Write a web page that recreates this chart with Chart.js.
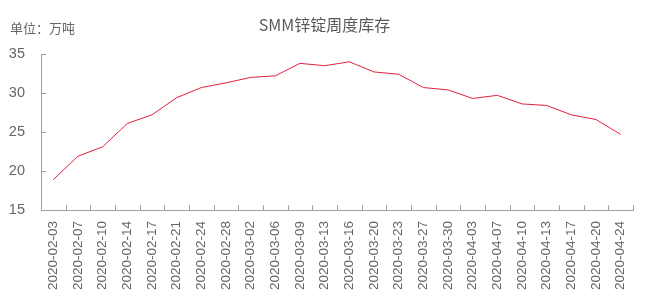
<!DOCTYPE html>
<html>
<head>
<meta charset="utf-8">
<script src="https://cdn.jsdelivr.net/npm/chart.js@4/dist/chart.umd.min.js"></script>
<style>
  html, body { margin: 0; padding: 0; background: #fff; }
  #wrap { width: 649px; height: 302px; }
</style>
</head>
<body>
<div id="wrap"><canvas id="c" width="649" height="302"></canvas></div>
<script>
const categories = ["2020-02-03","2020-02-07","2020-02-10","2020-02-14","2020-02-17","2020-02-21","2020-02-24","2020-02-28","2020-03-02","2020-03-06","2020-03-09","2020-03-13","2020-03-16","2020-03-20","2020-03-23","2020-03-27","2020-03-30","2020-04-03","2020-04-07","2020-04-10","2020-04-13","2020-04-17","2020-04-20","2020-04-24"];
const inventory = [18.9, 21.9, 23.1, 26.1, 27.2, 29.4, 30.7, 31.3, 32.0, 32.2, 33.8, 33.5, 34.0, 32.7, 32.4, 30.7, 30.4, 29.3, 29.7, 28.6, 28.4, 27.2, 26.6, 24.7];
const yTicks = [15, 20, 25, 30, 35];
const titleText = "SMM锌锭周度库存";
const unitText = "单位：万吨";

const FONT = "'Liberation Sans', Arial, 'Noto Sans CJK SC', sans-serif";
const CJK = "'Noto Sans CJK SC', 'Liberation Sans', sans-serif";

const decor = {
  id: 'decor',
  afterDraw(chart) {
    const ctx = chart.ctx;
    const a = chart.chartArea;
    const xs = chart.scales.x, ys = chart.scales.y;
    ctx.save();
    // texts
    ctx.fillStyle = '#595959';
    ctx.font = '16px ' + CJK;
    ctx.textAlign = 'center';
    ctx.textBaseline = 'middle';
    ctx.fillText(titleText, chart.width / 2, 25);
    ctx.fillStyle = '#666';
    ctx.font = '13px ' + CJK;
    ctx.textAlign = 'left';
    ctx.fillText(unitText, 10, 28);
    // inward ticks
    ctx.strokeStyle = '#a0a0a0';
    ctx.lineWidth = 1;
    ctx.beginPath();
    yTicks.forEach(v => {
      const py = Math.round(ys.getPixelForValue(v)) + 0.5;
      ctx.moveTo(a.left, py);
      ctx.lineTo(a.left + 5, py);
    });
    const n = categories.length;
    const w = (xs.right - xs.left) / n;
    for (let i = 1; i <= n; i++) {
      const px = Math.round(xs.left + i * w) + 0.5;
      ctx.moveTo(px, a.bottom);
      ctx.lineTo(px, a.bottom - 5);
    }
    ctx.stroke();
    ctx.restore();
  }
};

new Chart(document.getElementById('c'), {
  type: 'line',
  data: {
    labels: categories,
    datasets: [{
      data: inventory,
      borderColor: '#e5203a',
      borderWidth: 1,
      pointRadius: 0,
      tension: 0,
      fill: false
    }]
  },
  options: {
    responsive: false,
    animation: false,
    devicePixelRatio: 1,
    layout: { padding: { left: 0, right: 16, top: 54, bottom: 0 } },
    plugins: { legend: { display: false }, title: { display: false }, tooltip: { enabled: false } },
    scales: {
      x: {
        offset: true,
        grid: { display: false, drawTicks: false },
        border: { display: true, color: '#a0a0a0', width: 1 },
        ticks: {
          autoSkip: false,
          maxRotation: 90,
          minRotation: 90,
          padding: 11,
          color: '#666',
          font: { family: FONT, size: 13.5 }
        },
        afterFit(s) { s.height = 92; }
      },
      y: {
        min: 15,
        max: 35,
        afterBuildTicks(s) { s.ticks = yTicks.map(v => ({ value: v })); },
        grid: { display: false, drawTicks: false },
        border: { display: true, color: '#a0a0a0', width: 1 },
        ticks: {
          padding: 16,
          color: '#666',
          font: { family: FONT, size: 14.5 }
        },
        afterFit(s) { s.width = 41; }
      }
    }
  },
  plugins: [decor]
});
</script>
</body>
</html>
